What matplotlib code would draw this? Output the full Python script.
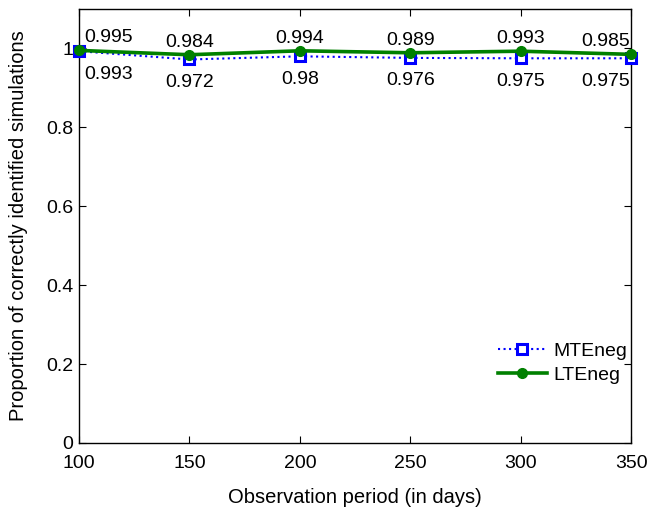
import matplotlib
matplotlib.use("Agg")
import matplotlib.pyplot as plt

days = [100, 150, 200, 250, 300, 350]
mte = [0.993, 0.972, 0.980, 0.976, 0.975, 0.975]
lte = [0.995, 0.984, 0.994, 0.989, 0.993, 0.985]
xticks = [100, 150, 200, 250, 300, 350]
yticks = [0, 0.2, 0.4, 0.6, 0.8, 1]
ytick_labels = ["0", "0.2", "0.4", "0.6", "0.8", "1"]

plt.rcParams['font.family'] = ['Liberation Sans', 'DejaVu Sans']
plt.rcParams['font.size'] = 14

fig = plt.figure(figsize=(6.51, 5.13), dpi=100)
ax = fig.add_axes([0.1214, 0.1365, 0.848, 0.846])

ax.plot(days, mte, color='blue', linestyle=':', linewidth=1.5, marker='s',
        markersize=7, markerfacecolor='white', markeredgecolor='blue',
        markeredgewidth=2.2, label='MTEneg', clip_on=False, zorder=3)
ax.plot(days, lte, color='#008000', linestyle='-', linewidth=2.6, marker='o',
        markersize=7, markerfacecolor='#008000', markeredgecolor='#008000',
        label='LTEneg', clip_on=False, zorder=4)

n = len(days)
for i, (x, a, b) in enumerate(zip(days, lte, mte)):
    if i == 0:
        ha, dx = 'left', 4
    elif i == n - 1:
        ha, dx = 'right', -1
    else:
        ha, dx = 'center', 0
    ax.annotate(f"{a:g}", (x, a), xytext=(dx, 3), textcoords='offset points',
                ha=ha, va='bottom', fontsize=14)
    ax.annotate(f"{b:g}", (x, b), xytext=(dx, -10.5), textcoords='offset points',
                ha=ha, va='top', fontsize=14)

ax.set_xlim(100, 350)
ax.set_ylim(0, 1.1)
ax.set_xticks(xticks)
ax.set_yticks(yticks)
ax.set_yticklabels(ytick_labels)
ax.tick_params(direction='in', length=5, width=0.8, top=True, right=True,
               labelsize=14)
ax.tick_params(axis='x', pad=9)
ax.tick_params(axis='y', pad=4)
for s in ax.spines.values():
    s.set_linewidth(1.0)

ax.set_xlabel('Observation period (in days)', fontsize=14.5, labelpad=11)
ax.set_ylabel('Proportion of correctly identified simulations', fontsize=14.5)
ax.yaxis.set_label_coords(-0.0924, 0.5)

leg = ax.legend(loc='lower right', bbox_to_anchor=(1.0136, 0.109), frameon=False,
                fontsize=14, handlelength=2.55, handletextpad=0.3,
                labelspacing=0.35, borderaxespad=0.2)

fig.savefig('out.png', dpi=100)
